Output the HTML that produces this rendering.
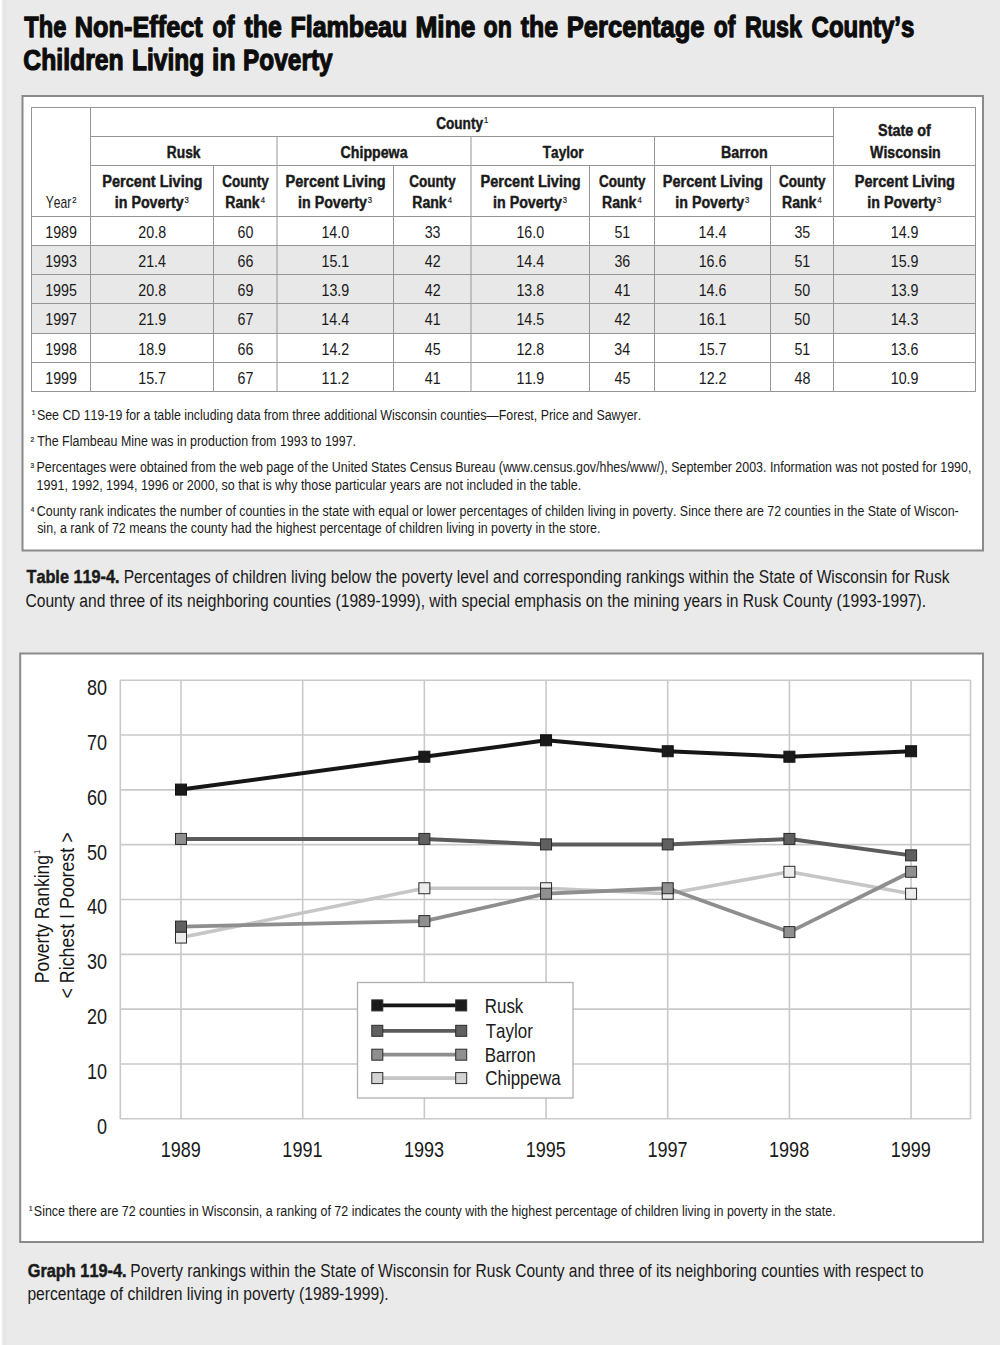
<!DOCTYPE html>
<html><head><meta charset="utf-8"><title>The Non-Effect of the Flambeau Mine</title>
<style>
html,body{margin:0;padding:0;}
body{width:1000px;height:1345px;overflow:hidden;background:#eaeaea;position:relative;}
#edge{position:absolute;left:0;top:0;width:7px;height:1345px;background:linear-gradient(to right,#ffffff 0px,#ffffff 0.8px,#e6e6e6 3.6px,#e6e6e6 6px,#eaeaea 7px);}
svg{position:absolute;left:0;top:0;}
text{font-family:"Liberation Sans",Arial,sans-serif;font-kerning:none;font-variant-ligatures:none;}
</style></head><body>
<div id="edge"></div>
<svg width="1000" height="1345" viewBox="0 0 1000 1345">
<text transform="translate(24.36 37.30) scale(0.7801 1)" fill="#0d0d0d" stroke="#0d0d0d" stroke-width="1.25" stroke-linejoin="round"><tspan font-size="30.30" font-weight="bold">The</tspan></text>
<text transform="translate(74.83 37.30) scale(0.8354 1)" fill="#0d0d0d" stroke="#0d0d0d" stroke-width="1.25" stroke-linejoin="round"><tspan font-size="30.30" font-weight="bold">Non-Effect</tspan></text>
<text transform="translate(212.41 37.30) scale(0.7698 1)" fill="#0d0d0d" stroke="#0d0d0d" stroke-width="1.25" stroke-linejoin="round"><tspan font-size="30.30" font-weight="bold">of</tspan></text>
<text transform="translate(244.52 37.30) scale(0.8185 1)" fill="#0d0d0d" stroke="#0d0d0d" stroke-width="1.25" stroke-linejoin="round"><tspan font-size="30.30" font-weight="bold">the</tspan></text>
<text transform="translate(290.45 37.30) scale(0.8263 1)" fill="#0d0d0d" stroke="#0d0d0d" stroke-width="1.25" stroke-linejoin="round"><tspan font-size="30.30" font-weight="bold">Flambeau</tspan></text>
<text transform="translate(415.47 37.30) scale(0.8680 1)" fill="#0d0d0d" stroke="#0d0d0d" stroke-width="1.25" stroke-linejoin="round"><tspan font-size="30.30" font-weight="bold">Mine</tspan></text>
<text transform="translate(483.62 37.30) scale(0.7643 1)" fill="#0d0d0d" stroke="#0d0d0d" stroke-width="1.25" stroke-linejoin="round"><tspan font-size="30.30" font-weight="bold">on</tspan></text>
<text transform="translate(520.82 37.30) scale(0.8208 1)" fill="#0d0d0d" stroke="#0d0d0d" stroke-width="1.25" stroke-linejoin="round"><tspan font-size="30.30" font-weight="bold">the</tspan></text>
<text transform="translate(566.81 37.30) scale(0.8437 1)" fill="#0d0d0d" stroke="#0d0d0d" stroke-width="1.25" stroke-linejoin="round"><tspan font-size="30.30" font-weight="bold">Percentage</tspan></text>
<text transform="translate(713.83 37.30) scale(0.7553 1)" fill="#0d0d0d" stroke="#0d0d0d" stroke-width="1.25" stroke-linejoin="round"><tspan font-size="30.30" font-weight="bold">of</tspan></text>
<text transform="translate(744.97 37.30) scale(0.7691 1)" fill="#0d0d0d" stroke="#0d0d0d" stroke-width="1.25" stroke-linejoin="round"><tspan font-size="30.30" font-weight="bold">Rusk</tspan></text>
<text transform="translate(811.54 37.30) scale(0.7933 1)" fill="#0d0d0d" stroke="#0d0d0d" stroke-width="1.25" stroke-linejoin="round"><tspan font-size="30.30" font-weight="bold">County’s</tspan></text>
<text transform="translate(23.31 69.60) scale(0.8170 1)" fill="#0d0d0d" stroke="#0d0d0d" stroke-width="1.25" stroke-linejoin="round"><tspan font-size="30.30" font-weight="bold">Children</tspan></text>
<text transform="translate(132.09 69.60) scale(0.8073 1)" fill="#0d0d0d" stroke="#0d0d0d" stroke-width="1.25" stroke-linejoin="round"><tspan font-size="30.30" font-weight="bold">Living</tspan></text>
<text transform="translate(212.08 69.60) scale(0.8700 1)" fill="#0d0d0d" stroke="#0d0d0d" stroke-width="1.25" stroke-linejoin="round"><tspan font-size="30.30" font-weight="bold">in</tspan></text>
<text transform="translate(243.09 69.60) scale(0.8053 1)" fill="#0d0d0d" stroke="#0d0d0d" stroke-width="1.25" stroke-linejoin="round"><tspan font-size="30.30" font-weight="bold">Poverty</tspan></text>
<rect x="22.50" y="96.00" width="960.50" height="454.50" fill="#ffffff" stroke="#8a8a8a" stroke-width="2.00"/>
<rect x="31.50" y="245.50" width="944.00" height="29.00" fill="#e8e8e8"/>
<rect x="31.50" y="274.50" width="944.00" height="29.00" fill="#e8e8e8"/>
<rect x="31.50" y="303.50" width="944.00" height="30.00" fill="#e8e8e8"/>
<rect x="31.50" y="107.50" width="944.00" height="284.00" fill="none" stroke="#959595" stroke-width="1.00"/>
<line x1="31.50" y1="216.50" x2="975.50" y2="216.50" stroke="#959595" stroke-width="1.00"/>
<line x1="31.50" y1="245.50" x2="975.50" y2="245.50" stroke="#959595" stroke-width="1.00"/>
<line x1="31.50" y1="274.50" x2="975.50" y2="274.50" stroke="#959595" stroke-width="1.00"/>
<line x1="31.50" y1="303.50" x2="975.50" y2="303.50" stroke="#959595" stroke-width="1.00"/>
<line x1="31.50" y1="333.50" x2="975.50" y2="333.50" stroke="#959595" stroke-width="1.00"/>
<line x1="31.50" y1="362.50" x2="975.50" y2="362.50" stroke="#959595" stroke-width="1.00"/>
<line x1="90.50" y1="136.50" x2="833.50" y2="136.50" stroke="#959595" stroke-width="1.00"/>
<line x1="90.50" y1="165.50" x2="975.50" y2="165.50" stroke="#959595" stroke-width="1.00"/>
<line x1="90.50" y1="107.50" x2="90.50" y2="391.50" stroke="#959595" stroke-width="1.00"/>
<line x1="833.50" y1="107.50" x2="833.50" y2="391.50" stroke="#959595" stroke-width="1.00"/>
<line x1="277.00" y1="136.50" x2="277.00" y2="391.50" stroke="#959595" stroke-width="1.00"/>
<line x1="471.00" y1="136.50" x2="471.00" y2="391.50" stroke="#959595" stroke-width="1.00"/>
<line x1="654.50" y1="136.50" x2="654.50" y2="391.50" stroke="#959595" stroke-width="1.00"/>
<line x1="213.50" y1="165.50" x2="213.50" y2="391.50" stroke="#959595" stroke-width="1.00"/>
<line x1="393.50" y1="165.50" x2="393.50" y2="391.50" stroke="#959595" stroke-width="1.00"/>
<line x1="589.50" y1="165.50" x2="589.50" y2="391.50" stroke="#959595" stroke-width="1.00"/>
<line x1="770.50" y1="165.50" x2="770.50" y2="391.50" stroke="#959595" stroke-width="1.00"/>
<text transform="translate(436.24 128.70) scale(0.8174 1)" fill="#1a1a1a" stroke="#1a1a1a" stroke-width="0.45" stroke-linejoin="round"><tspan font-size="16.60" font-weight="bold">County</tspan></text>
<text transform="translate(484.02 122.60) scale(0.8500 1)" fill="#262626" stroke="#262626" stroke-width="0.25" stroke-linejoin="round"><tspan font-size="9.00">1</tspan></text>
<text transform="translate(166.83 157.80) scale(0.8304 1)" fill="#1a1a1a" stroke="#1a1a1a" stroke-width="0.45" stroke-linejoin="round"><tspan font-size="16.60" font-weight="bold">Rusk</tspan></text>
<text transform="translate(340.52 157.80) scale(0.8558 1)" fill="#1a1a1a" stroke="#1a1a1a" stroke-width="0.45" stroke-linejoin="round"><tspan font-size="16.60" font-weight="bold">Chippewa</tspan></text>
<text transform="translate(542.75 157.80) scale(0.8202 1)" fill="#1a1a1a" stroke="#1a1a1a" stroke-width="0.45" stroke-linejoin="round"><tspan font-size="16.60" font-weight="bold">Taylor</tspan></text>
<text transform="translate(720.94 157.80) scale(0.8607 1)" fill="#1a1a1a" stroke="#1a1a1a" stroke-width="0.45" stroke-linejoin="round"><tspan font-size="16.60" font-weight="bold">Barron</tspan></text>
<text transform="translate(878.03 136.20) scale(0.8688 1)" fill="#1a1a1a" stroke="#1a1a1a" stroke-width="0.45" stroke-linejoin="round"><tspan font-size="16.60" font-weight="bold">State of</tspan></text>
<text transform="translate(870.04 157.80) scale(0.8528 1)" fill="#1a1a1a" stroke="#1a1a1a" stroke-width="0.45" stroke-linejoin="round"><tspan font-size="16.60" font-weight="bold">Wisconsin</tspan></text>
<text transform="translate(102.28 186.60) scale(0.8764 1)" fill="#1a1a1a" stroke="#1a1a1a" stroke-width="0.45" stroke-linejoin="round"><tspan font-size="16.60" font-weight="bold">Percent Living</tspan></text>
<text transform="translate(114.75 207.60) scale(0.8594 1)" fill="#1a1a1a" stroke="#1a1a1a" stroke-width="0.45" stroke-linejoin="round"><tspan font-size="16.60" font-weight="bold">in Poverty</tspan></text>
<text transform="translate(184.56 202.60) scale(0.8500 1)" fill="#262626" stroke="#262626" stroke-width="0.25" stroke-linejoin="round"><tspan font-size="9.00">3</tspan></text>
<text transform="translate(285.53 186.60) scale(0.8764 1)" fill="#1a1a1a" stroke="#1a1a1a" stroke-width="0.45" stroke-linejoin="round"><tspan font-size="16.60" font-weight="bold">Percent Living</tspan></text>
<text transform="translate(298.00 207.60) scale(0.8594 1)" fill="#1a1a1a" stroke="#1a1a1a" stroke-width="0.45" stroke-linejoin="round"><tspan font-size="16.60" font-weight="bold">in Poverty</tspan></text>
<text transform="translate(367.81 202.60) scale(0.8500 1)" fill="#262626" stroke="#262626" stroke-width="0.25" stroke-linejoin="round"><tspan font-size="9.00">3</tspan></text>
<text transform="translate(480.53 186.60) scale(0.8764 1)" fill="#1a1a1a" stroke="#1a1a1a" stroke-width="0.45" stroke-linejoin="round"><tspan font-size="16.60" font-weight="bold">Percent Living</tspan></text>
<text transform="translate(493.00 207.60) scale(0.8594 1)" fill="#1a1a1a" stroke="#1a1a1a" stroke-width="0.45" stroke-linejoin="round"><tspan font-size="16.60" font-weight="bold">in Poverty</tspan></text>
<text transform="translate(562.81 202.60) scale(0.8500 1)" fill="#262626" stroke="#262626" stroke-width="0.25" stroke-linejoin="round"><tspan font-size="9.00">3</tspan></text>
<text transform="translate(662.78 186.60) scale(0.8764 1)" fill="#1a1a1a" stroke="#1a1a1a" stroke-width="0.45" stroke-linejoin="round"><tspan font-size="16.60" font-weight="bold">Percent Living</tspan></text>
<text transform="translate(675.25 207.60) scale(0.8594 1)" fill="#1a1a1a" stroke="#1a1a1a" stroke-width="0.45" stroke-linejoin="round"><tspan font-size="16.60" font-weight="bold">in Poverty</tspan></text>
<text transform="translate(745.06 202.60) scale(0.8500 1)" fill="#262626" stroke="#262626" stroke-width="0.25" stroke-linejoin="round"><tspan font-size="9.00">3</tspan></text>
<text transform="translate(854.78 186.60) scale(0.8764 1)" fill="#1a1a1a" stroke="#1a1a1a" stroke-width="0.45" stroke-linejoin="round"><tspan font-size="16.60" font-weight="bold">Percent Living</tspan></text>
<text transform="translate(867.25 207.60) scale(0.8594 1)" fill="#1a1a1a" stroke="#1a1a1a" stroke-width="0.45" stroke-linejoin="round"><tspan font-size="16.60" font-weight="bold">in Poverty</tspan></text>
<text transform="translate(937.06 202.60) scale(0.8500 1)" fill="#262626" stroke="#262626" stroke-width="0.25" stroke-linejoin="round"><tspan font-size="9.00">3</tspan></text>
<text transform="translate(222.15 186.60) scale(0.8139 1)" fill="#1a1a1a" stroke="#1a1a1a" stroke-width="0.45" stroke-linejoin="round"><tspan font-size="16.60" font-weight="bold">County</tspan></text>
<text transform="translate(225.26 208.00) scale(0.8481 1)" fill="#1a1a1a" stroke="#1a1a1a" stroke-width="0.45" stroke-linejoin="round"><tspan font-size="16.60" font-weight="bold">Rank</tspan></text>
<text transform="translate(260.72 203.00) scale(0.8500 1)" fill="#262626" stroke="#262626" stroke-width="0.25" stroke-linejoin="round"><tspan font-size="9.00">4</tspan></text>
<text transform="translate(409.15 186.60) scale(0.8139 1)" fill="#1a1a1a" stroke="#1a1a1a" stroke-width="0.45" stroke-linejoin="round"><tspan font-size="16.60" font-weight="bold">County</tspan></text>
<text transform="translate(412.26 208.00) scale(0.8481 1)" fill="#1a1a1a" stroke="#1a1a1a" stroke-width="0.45" stroke-linejoin="round"><tspan font-size="16.60" font-weight="bold">Rank</tspan></text>
<text transform="translate(447.72 203.00) scale(0.8500 1)" fill="#262626" stroke="#262626" stroke-width="0.25" stroke-linejoin="round"><tspan font-size="9.00">4</tspan></text>
<text transform="translate(598.90 186.60) scale(0.8139 1)" fill="#1a1a1a" stroke="#1a1a1a" stroke-width="0.45" stroke-linejoin="round"><tspan font-size="16.60" font-weight="bold">County</tspan></text>
<text transform="translate(602.01 208.00) scale(0.8481 1)" fill="#1a1a1a" stroke="#1a1a1a" stroke-width="0.45" stroke-linejoin="round"><tspan font-size="16.60" font-weight="bold">Rank</tspan></text>
<text transform="translate(637.47 203.00) scale(0.8500 1)" fill="#262626" stroke="#262626" stroke-width="0.25" stroke-linejoin="round"><tspan font-size="9.00">4</tspan></text>
<text transform="translate(778.90 186.60) scale(0.8139 1)" fill="#1a1a1a" stroke="#1a1a1a" stroke-width="0.45" stroke-linejoin="round"><tspan font-size="16.60" font-weight="bold">County</tspan></text>
<text transform="translate(782.01 208.00) scale(0.8481 1)" fill="#1a1a1a" stroke="#1a1a1a" stroke-width="0.45" stroke-linejoin="round"><tspan font-size="16.60" font-weight="bold">Rank</tspan></text>
<text transform="translate(817.47 203.00) scale(0.8500 1)" fill="#262626" stroke="#262626" stroke-width="0.25" stroke-linejoin="round"><tspan font-size="9.00">4</tspan></text>
<text transform="translate(45.74 208.30) scale(0.7351 1)" fill="#1a1a1a"><tspan font-size="16.40">Year</tspan></text>
<text transform="translate(72.22 203.00) scale(0.8500 1)" fill="#262626" stroke="#262626" stroke-width="0.25" stroke-linejoin="round"><tspan font-size="9.00">2</tspan></text>
<text transform="translate(45.22 237.60) scale(0.8650 1)" fill="#1a1a1a"><tspan font-size="16.50">1989</tspan></text>
<text transform="translate(138.36 237.60) scale(0.8650 1)" fill="#1a1a1a"><tspan font-size="16.50">20.8</tspan></text>
<text transform="translate(237.53 237.60) scale(0.8650 1)" fill="#1a1a1a"><tspan font-size="16.50">60</tspan></text>
<text transform="translate(321.40 237.60) scale(0.8650 1)" fill="#1a1a1a"><tspan font-size="16.50">14.0</tspan></text>
<text transform="translate(424.65 237.60) scale(0.8650 1)" fill="#1a1a1a"><tspan font-size="16.50">33</tspan></text>
<text transform="translate(516.40 237.60) scale(0.8650 1)" fill="#1a1a1a"><tspan font-size="16.50">16.0</tspan></text>
<text transform="translate(614.43 237.60) scale(0.8650 1)" fill="#1a1a1a"><tspan font-size="16.50">51</tspan></text>
<text transform="translate(698.58 237.60) scale(0.8650 1)" fill="#1a1a1a"><tspan font-size="16.50">14.4</tspan></text>
<text transform="translate(794.39 237.60) scale(0.8650 1)" fill="#1a1a1a"><tspan font-size="16.50">35</tspan></text>
<text transform="translate(890.71 237.60) scale(0.8650 1)" fill="#1a1a1a"><tspan font-size="16.50">14.9</tspan></text>
<text transform="translate(45.19 266.60) scale(0.8650 1)" fill="#1a1a1a"><tspan font-size="16.50">1993</tspan></text>
<text transform="translate(138.26 266.60) scale(0.8650 1)" fill="#1a1a1a"><tspan font-size="16.50">21.4</tspan></text>
<text transform="translate(237.56 266.60) scale(0.8650 1)" fill="#1a1a1a"><tspan font-size="16.50">66</tspan></text>
<text transform="translate(321.47 266.60) scale(0.8650 1)" fill="#1a1a1a"><tspan font-size="16.50">15.1</tspan></text>
<text transform="translate(424.81 266.60) scale(0.8650 1)" fill="#1a1a1a"><tspan font-size="16.50">42</tspan></text>
<text transform="translate(516.33 266.60) scale(0.8650 1)" fill="#1a1a1a"><tspan font-size="16.50">14.4</tspan></text>
<text transform="translate(614.40 266.60) scale(0.8650 1)" fill="#1a1a1a"><tspan font-size="16.50">36</tspan></text>
<text transform="translate(698.68 266.60) scale(0.8650 1)" fill="#1a1a1a"><tspan font-size="16.50">16.6</tspan></text>
<text transform="translate(794.43 266.60) scale(0.8650 1)" fill="#1a1a1a"><tspan font-size="16.50">51</tspan></text>
<text transform="translate(890.71 266.60) scale(0.8650 1)" fill="#1a1a1a"><tspan font-size="16.50">15.9</tspan></text>
<text transform="translate(45.18 295.60) scale(0.8650 1)" fill="#1a1a1a"><tspan font-size="16.50">1995</tspan></text>
<text transform="translate(138.36 295.60) scale(0.8650 1)" fill="#1a1a1a"><tspan font-size="16.50">20.8</tspan></text>
<text transform="translate(237.59 295.60) scale(0.8650 1)" fill="#1a1a1a"><tspan font-size="16.50">69</tspan></text>
<text transform="translate(321.46 295.60) scale(0.8650 1)" fill="#1a1a1a"><tspan font-size="16.50">13.9</tspan></text>
<text transform="translate(424.81 295.60) scale(0.8650 1)" fill="#1a1a1a"><tspan font-size="16.50">42</tspan></text>
<text transform="translate(516.43 295.60) scale(0.8650 1)" fill="#1a1a1a"><tspan font-size="16.50">13.8</tspan></text>
<text transform="translate(614.55 295.60) scale(0.8650 1)" fill="#1a1a1a"><tspan font-size="16.50">41</tspan></text>
<text transform="translate(698.68 295.60) scale(0.8650 1)" fill="#1a1a1a"><tspan font-size="16.50">14.6</tspan></text>
<text transform="translate(794.36 295.60) scale(0.8650 1)" fill="#1a1a1a"><tspan font-size="16.50">50</tspan></text>
<text transform="translate(890.71 295.60) scale(0.8650 1)" fill="#1a1a1a"><tspan font-size="16.50">13.9</tspan></text>
<text transform="translate(45.24 324.60) scale(0.8650 1)" fill="#1a1a1a"><tspan font-size="16.50">1997</tspan></text>
<text transform="translate(138.39 324.60) scale(0.8650 1)" fill="#1a1a1a"><tspan font-size="16.50">21.9</tspan></text>
<text transform="translate(237.61 324.60) scale(0.8650 1)" fill="#1a1a1a"><tspan font-size="16.50">67</tspan></text>
<text transform="translate(321.33 324.60) scale(0.8650 1)" fill="#1a1a1a"><tspan font-size="16.50">14.4</tspan></text>
<text transform="translate(424.80 324.60) scale(0.8650 1)" fill="#1a1a1a"><tspan font-size="16.50">41</tspan></text>
<text transform="translate(516.42 324.60) scale(0.8650 1)" fill="#1a1a1a"><tspan font-size="16.50">14.5</tspan></text>
<text transform="translate(614.56 324.60) scale(0.8650 1)" fill="#1a1a1a"><tspan font-size="16.50">42</tspan></text>
<text transform="translate(698.72 324.60) scale(0.8650 1)" fill="#1a1a1a"><tspan font-size="16.50">16.1</tspan></text>
<text transform="translate(794.36 324.60) scale(0.8650 1)" fill="#1a1a1a"><tspan font-size="16.50">50</tspan></text>
<text transform="translate(890.68 324.60) scale(0.8650 1)" fill="#1a1a1a"><tspan font-size="16.50">14.3</tspan></text>
<text transform="translate(45.19 354.60) scale(0.8650 1)" fill="#1a1a1a"><tspan font-size="16.50">1998</tspan></text>
<text transform="translate(138.21 354.60) scale(0.8650 1)" fill="#1a1a1a"><tspan font-size="16.50">18.9</tspan></text>
<text transform="translate(237.56 354.60) scale(0.8650 1)" fill="#1a1a1a"><tspan font-size="16.50">66</tspan></text>
<text transform="translate(321.48 354.60) scale(0.8650 1)" fill="#1a1a1a"><tspan font-size="16.50">14.2</tspan></text>
<text transform="translate(424.75 354.60) scale(0.8650 1)" fill="#1a1a1a"><tspan font-size="16.50">45</tspan></text>
<text transform="translate(516.43 354.60) scale(0.8650 1)" fill="#1a1a1a"><tspan font-size="16.50">12.8</tspan></text>
<text transform="translate(614.30 354.60) scale(0.8650 1)" fill="#1a1a1a"><tspan font-size="16.50">34</tspan></text>
<text transform="translate(698.73 354.60) scale(0.8650 1)" fill="#1a1a1a"><tspan font-size="16.50">15.7</tspan></text>
<text transform="translate(794.43 354.60) scale(0.8650 1)" fill="#1a1a1a"><tspan font-size="16.50">51</tspan></text>
<text transform="translate(890.68 354.60) scale(0.8650 1)" fill="#1a1a1a"><tspan font-size="16.50">13.6</tspan></text>
<text transform="translate(45.22 383.60) scale(0.8650 1)" fill="#1a1a1a"><tspan font-size="16.50">1999</tspan></text>
<text transform="translate(138.23 383.60) scale(0.8650 1)" fill="#1a1a1a"><tspan font-size="16.50">15.7</tspan></text>
<text transform="translate(237.61 383.60) scale(0.8650 1)" fill="#1a1a1a"><tspan font-size="16.50">67</tspan></text>
<text transform="translate(321.48 383.60) scale(0.8650 1)" fill="#1a1a1a"><tspan font-size="16.50">11.2</tspan></text>
<text transform="translate(424.80 383.60) scale(0.8650 1)" fill="#1a1a1a"><tspan font-size="16.50">41</tspan></text>
<text transform="translate(516.46 383.60) scale(0.8650 1)" fill="#1a1a1a"><tspan font-size="16.50">11.9</tspan></text>
<text transform="translate(614.50 383.60) scale(0.8650 1)" fill="#1a1a1a"><tspan font-size="16.50">45</tspan></text>
<text transform="translate(698.73 383.60) scale(0.8650 1)" fill="#1a1a1a"><tspan font-size="16.50">12.2</tspan></text>
<text transform="translate(794.51 383.60) scale(0.8650 1)" fill="#1a1a1a"><tspan font-size="16.50">48</tspan></text>
<text transform="translate(890.71 383.60) scale(0.8650 1)" fill="#1a1a1a"><tspan font-size="16.50">10.9</tspan></text>
<text transform="translate(31.71 414.80) scale(0.8500 1)" fill="#262626" stroke="#262626" stroke-width="0.25" stroke-linejoin="round"><tspan font-size="7.60">1</tspan></text>
<text transform="translate(36.94 419.80) scale(0.7998 1)" fill="#1a1a1a"><tspan font-size="15.50">See CD 119-19 for a table including data from three additional Wisconsin counties—Forest, Price and Sawyer.</tspan></text>
<text transform="translate(30.48 441.60) scale(0.8500 1)" fill="#262626" stroke="#262626" stroke-width="0.25" stroke-linejoin="round"><tspan font-size="7.60">2</tspan></text>
<text transform="translate(37.22 445.80) scale(0.8034 1)" fill="#1a1a1a"><tspan font-size="15.50">The Flambeau Mine was in production from 1993 to 1997.</tspan></text>
<text transform="translate(30.55 467.60) scale(0.8500 1)" fill="#262626" stroke="#262626" stroke-width="0.25" stroke-linejoin="round"><tspan font-size="7.60">3</tspan></text>
<text transform="translate(36.48 471.80) scale(0.8017 1)" fill="#1a1a1a"><tspan font-size="15.50">Percentages were obtained from the web page of the United States Census Bureau (www.census.gov/hhes/www/), September 2003. Information was not posted for 1990,</tspan></text>
<text transform="translate(36.55 489.50) scale(0.8079 1)" fill="#1a1a1a"><tspan font-size="15.50">1991, 1992, 1994, 1996 or 2000, so that is why those particular years are not included in the table.</tspan></text>
<text transform="translate(30.65 511.50) scale(0.8500 1)" fill="#262626" stroke="#262626" stroke-width="0.25" stroke-linejoin="round"><tspan font-size="7.60">4</tspan></text>
<text transform="translate(36.87 515.70) scale(0.8003 1)" fill="#1a1a1a"><tspan font-size="15.50">County rank indicates the number of counties in the state with equal or lower percentages of childen living in poverty. Since there are 72 counties in the State of Wiscon-</tspan></text>
<text transform="translate(37.15 533.20) scale(0.8041 1)" fill="#1a1a1a"><tspan font-size="15.50">sin, a rank of 72 means the county had the highest percentage of children living in poverty in the store.</tspan></text>
<text transform="translate(26.52 582.80) scale(0.8461 1)" fill="#1a1a1a"><tspan font-size="19.20" font-weight="bold" stroke="#1a1a1a" stroke-width="0.50" stroke-linejoin="round">Table 119-4.</tspan></text>
<text transform="translate(123.63 582.80) scale(0.8091 1)" fill="#1a1a1a"><tspan font-size="19.20">Percentages of children living below the poverty level and corresponding rankings within the State of Wisconsin for Rusk</tspan></text>
<text transform="translate(25.41 606.80) scale(0.8141 1)" fill="#1a1a1a"><tspan font-size="19.20">County and three of its neighboring counties (1989-1999), with special emphasis on the mining years in Rusk County (1993-1997).</tspan></text>
<rect x="20.20" y="653.50" width="962.80" height="588.50" fill="#ffffff" stroke="#8a8a8a" stroke-width="2.00"/>
<line x1="120.30" y1="1118.80" x2="970.50" y2="1118.80" stroke="#c9c9c9" stroke-width="1.60"/>
<line x1="120.30" y1="1063.97" x2="970.50" y2="1063.97" stroke="#c9c9c9" stroke-width="1.60"/>
<line x1="120.30" y1="1009.15" x2="970.50" y2="1009.15" stroke="#c9c9c9" stroke-width="1.60"/>
<line x1="120.30" y1="954.33" x2="970.50" y2="954.33" stroke="#c9c9c9" stroke-width="1.60"/>
<line x1="120.30" y1="899.50" x2="970.50" y2="899.50" stroke="#c9c9c9" stroke-width="1.60"/>
<line x1="120.30" y1="844.67" x2="970.50" y2="844.67" stroke="#c9c9c9" stroke-width="1.60"/>
<line x1="120.30" y1="789.85" x2="970.50" y2="789.85" stroke="#c9c9c9" stroke-width="1.60"/>
<line x1="120.30" y1="735.02" x2="970.50" y2="735.02" stroke="#c9c9c9" stroke-width="1.60"/>
<line x1="120.30" y1="680.20" x2="970.50" y2="680.20" stroke="#c9c9c9" stroke-width="1.60"/>
<line x1="181.00" y1="680.00" x2="181.00" y2="1119.00" stroke="#c9c9c9" stroke-width="1.60"/>
<line x1="302.68" y1="680.00" x2="302.68" y2="1119.00" stroke="#c9c9c9" stroke-width="1.60"/>
<line x1="424.36" y1="680.00" x2="424.36" y2="1119.00" stroke="#c9c9c9" stroke-width="1.60"/>
<line x1="546.04" y1="680.00" x2="546.04" y2="1119.00" stroke="#c9c9c9" stroke-width="1.60"/>
<line x1="667.72" y1="680.00" x2="667.72" y2="1119.00" stroke="#c9c9c9" stroke-width="1.60"/>
<line x1="789.40" y1="680.00" x2="789.40" y2="1119.00" stroke="#c9c9c9" stroke-width="1.60"/>
<line x1="911.08" y1="680.00" x2="911.08" y2="1119.00" stroke="#c9c9c9" stroke-width="1.60"/>
<line x1="120.30" y1="680.00" x2="120.30" y2="1119.00" stroke="#c9c9c9" stroke-width="1.60"/>
<line x1="970.50" y1="680.00" x2="970.50" y2="1119.00" stroke="#c9c9c9" stroke-width="1.60"/>
<text transform="translate(160.65 1157.00) scale(0.8400 1)" fill="#1a1a1a"><tspan font-size="21.50">1989</tspan></text>
<text transform="translate(282.34 1157.00) scale(0.8400 1)" fill="#1a1a1a"><tspan font-size="21.50">1991</tspan></text>
<text transform="translate(403.98 1157.00) scale(0.8400 1)" fill="#1a1a1a"><tspan font-size="21.50">1993</tspan></text>
<text transform="translate(525.64 1157.00) scale(0.8400 1)" fill="#1a1a1a"><tspan font-size="21.50">1995</tspan></text>
<text transform="translate(647.40 1157.00) scale(0.8400 1)" fill="#1a1a1a"><tspan font-size="21.50">1997</tspan></text>
<text transform="translate(769.02 1157.00) scale(0.8400 1)" fill="#1a1a1a"><tspan font-size="21.50">1998</tspan></text>
<text transform="translate(890.73 1157.00) scale(0.8400 1)" fill="#1a1a1a"><tspan font-size="21.50">1999</tspan></text>
<text transform="translate(96.96 1133.60) scale(0.8400 1)" fill="#1a1a1a"><tspan font-size="21.50">0</tspan></text>
<text transform="translate(86.92 1078.80) scale(0.8400 1)" fill="#1a1a1a"><tspan font-size="21.50">10</tspan></text>
<text transform="translate(86.92 1024.00) scale(0.8400 1)" fill="#1a1a1a"><tspan font-size="21.50">20</tspan></text>
<text transform="translate(86.92 969.20) scale(0.8400 1)" fill="#1a1a1a"><tspan font-size="21.50">30</tspan></text>
<text transform="translate(86.92 914.40) scale(0.8400 1)" fill="#1a1a1a"><tspan font-size="21.50">40</tspan></text>
<text transform="translate(86.92 859.60) scale(0.8400 1)" fill="#1a1a1a"><tspan font-size="21.50">50</tspan></text>
<text transform="translate(86.92 804.80) scale(0.8400 1)" fill="#1a1a1a"><tspan font-size="21.50">60</tspan></text>
<text transform="translate(86.92 750.00) scale(0.8400 1)" fill="#1a1a1a"><tspan font-size="21.50">70</tspan></text>
<text transform="translate(86.92 695.20) scale(0.8400 1)" fill="#1a1a1a"><tspan font-size="21.50">80</tspan></text>
<polyline points="181.00,937.56 424.36,888.24 546.04,888.24 667.72,893.72 789.40,871.80 911.08,893.72" fill="none" stroke="#c6c6c6" stroke-width="3.60" stroke-linejoin="round"/>
<polyline points="181.00,926.60 424.36,921.12 546.04,893.72 667.72,888.24 789.40,932.08 911.08,871.80" fill="none" stroke="#8e8e8e" stroke-width="3.80" stroke-linejoin="round"/>
<polyline points="181.00,838.92 424.36,838.92 546.04,844.40 667.72,844.40 789.40,838.92 911.08,855.36" fill="none" stroke="#5c5c5c" stroke-width="4.00" stroke-linejoin="round"/>
<polyline points="181.00,789.60 424.36,756.72 546.04,740.28 667.72,751.24 789.40,756.72 911.08,751.24" fill="none" stroke="#161616" stroke-width="4.00" stroke-linejoin="round"/>
<rect x="175.50" y="932.06" width="11" height="11" fill="#ececec" stroke="#2a2a2a" stroke-width="1"/>
<rect x="418.86" y="882.74" width="11" height="11" fill="#ececec" stroke="#2a2a2a" stroke-width="1"/>
<rect x="540.54" y="882.74" width="11" height="11" fill="#ececec" stroke="#2a2a2a" stroke-width="1"/>
<rect x="662.22" y="888.22" width="11" height="11" fill="#ececec" stroke="#2a2a2a" stroke-width="1"/>
<rect x="783.90" y="866.30" width="11" height="11" fill="#ececec" stroke="#2a2a2a" stroke-width="1"/>
<rect x="905.58" y="888.22" width="11" height="11" fill="#ececec" stroke="#2a2a2a" stroke-width="1"/>
<rect x="175.50" y="921.10" width="11" height="11" fill="#606060" stroke="#2a2a2a" stroke-width="1"/>
<rect x="418.86" y="915.62" width="11" height="11" fill="#8f8f8f" stroke="#2a2a2a" stroke-width="1"/>
<rect x="540.54" y="888.22" width="11" height="11" fill="#8f8f8f" stroke="#2a2a2a" stroke-width="1"/>
<rect x="662.22" y="882.74" width="11" height="11" fill="#8f8f8f" stroke="#2a2a2a" stroke-width="1"/>
<rect x="783.90" y="926.58" width="11" height="11" fill="#8f8f8f" stroke="#2a2a2a" stroke-width="1"/>
<rect x="905.58" y="866.30" width="11" height="11" fill="#8f8f8f" stroke="#2a2a2a" stroke-width="1"/>
<rect x="175.50" y="833.42" width="11" height="11" fill="#8f8f8f" stroke="#2a2a2a" stroke-width="1"/>
<rect x="418.86" y="833.42" width="11" height="11" fill="#606060" stroke="#2a2a2a" stroke-width="1"/>
<rect x="540.54" y="838.90" width="11" height="11" fill="#606060" stroke="#2a2a2a" stroke-width="1"/>
<rect x="662.22" y="838.90" width="11" height="11" fill="#606060" stroke="#2a2a2a" stroke-width="1"/>
<rect x="783.90" y="833.42" width="11" height="11" fill="#606060" stroke="#2a2a2a" stroke-width="1"/>
<rect x="905.58" y="849.86" width="11" height="11" fill="#606060" stroke="#2a2a2a" stroke-width="1"/>
<rect x="175.50" y="784.10" width="11" height="11" fill="#1a1a1a" stroke="#111" stroke-width="1"/>
<rect x="418.86" y="751.22" width="11" height="11" fill="#1a1a1a" stroke="#111" stroke-width="1"/>
<rect x="540.54" y="734.78" width="11" height="11" fill="#1a1a1a" stroke="#111" stroke-width="1"/>
<rect x="662.22" y="745.74" width="11" height="11" fill="#1a1a1a" stroke="#111" stroke-width="1"/>
<rect x="783.90" y="751.22" width="11" height="11" fill="#1a1a1a" stroke="#111" stroke-width="1"/>
<rect x="905.58" y="745.74" width="11" height="11" fill="#1a1a1a" stroke="#111" stroke-width="1"/>
<rect x="357.50" y="982.50" width="215.50" height="115.50" fill="#ffffff" stroke="#b0b0b0" stroke-width="1.30"/>
<line x1="377.00" y1="1005.40" x2="461.00" y2="1005.40" stroke="#161616" stroke-width="3.70"/>
<rect x="371.80" y="999.90" width="11" height="11" fill="#1a1a1a" stroke="#2a2a2a" stroke-width="1"/>
<rect x="455.70" y="999.90" width="11" height="11" fill="#1a1a1a" stroke="#2a2a2a" stroke-width="1"/>
<text transform="translate(484.71 1012.60) scale(0.8400 1)" fill="#1a1a1a"><tspan font-size="20.20">Rusk</tspan></text>
<line x1="377.00" y1="1030.80" x2="461.00" y2="1030.80" stroke="#5c5c5c" stroke-width="3.70"/>
<rect x="371.80" y="1025.30" width="11" height="11" fill="#606060" stroke="#2a2a2a" stroke-width="1"/>
<rect x="455.70" y="1025.30" width="11" height="11" fill="#606060" stroke="#2a2a2a" stroke-width="1"/>
<text transform="translate(485.72 1038.00) scale(0.8400 1)" fill="#1a1a1a"><tspan font-size="20.20">Taylor</tspan></text>
<line x1="377.00" y1="1054.70" x2="461.00" y2="1054.70" stroke="#8e8e8e" stroke-width="3.70"/>
<rect x="371.80" y="1049.20" width="11" height="11" fill="#8f8f8f" stroke="#2a2a2a" stroke-width="1"/>
<rect x="455.70" y="1049.20" width="11" height="11" fill="#8f8f8f" stroke="#2a2a2a" stroke-width="1"/>
<text transform="translate(484.71 1061.90) scale(0.8400 1)" fill="#1a1a1a"><tspan font-size="20.20">Barron</tspan></text>
<line x1="377.00" y1="1078.10" x2="461.00" y2="1078.10" stroke="#c6c6c6" stroke-width="3.70"/>
<rect x="371.80" y="1072.60" width="11" height="11" fill="#d4d4d4" stroke="#2a2a2a" stroke-width="1"/>
<rect x="455.70" y="1072.60" width="11" height="11" fill="#d4d4d4" stroke="#2a2a2a" stroke-width="1"/>
<text transform="translate(485.24 1085.30) scale(0.8400 1)" fill="#1a1a1a"><tspan font-size="20.20">Chippewa</tspan></text>
<text transform="translate(48.80 981.80) rotate(-90) scale(0.8660 1) translate(-1.66 0)" fill="#141414"><tspan font-size="20.20">Poverty Ranking</tspan></text>
<text transform="translate(73.50 997.60) rotate(-90) scale(0.8810 1) translate(-1.00 0)" fill="#141414"><tspan font-size="20.20">&lt; Richest I Poorest &gt;</tspan></text>
<text transform="translate(40.00 854.00) rotate(-90) scale(0.9 1)" font-size="8.5" fill="#141414">1</text>
<text transform="translate(29.12 1210.60) scale(0.8500 1)" fill="#262626" stroke="#262626" stroke-width="0.25" stroke-linejoin="round"><tspan font-size="7.40">1</tspan></text>
<text transform="translate(33.83 1215.80) scale(0.8540 1)" fill="#1a1a1a"><tspan font-size="14.60">Since there are 72 counties in Wisconsin, a ranking of 72 indicates the county with the highest percentage of children living in poverty in the state.</tspan></text>
<text transform="translate(27.73 1277.00) scale(0.8511 1)" fill="#1a1a1a"><tspan font-size="19.20" font-weight="bold" stroke="#1a1a1a" stroke-width="0.50" stroke-linejoin="round">Graph 119-4.</tspan></text>
<text transform="translate(130.33 1277.00) scale(0.8094 1)" fill="#1a1a1a"><tspan font-size="19.20">Poverty rankings within the State of Wisconsin for Rusk County and three of its neighboring counties with respect to</tspan></text>
<text transform="translate(27.39 1300.00) scale(0.8162 1)" fill="#1a1a1a"><tspan font-size="19.20">percentage of children living in poverty (1989-1999).</tspan></text>
</svg>
</body></html>
